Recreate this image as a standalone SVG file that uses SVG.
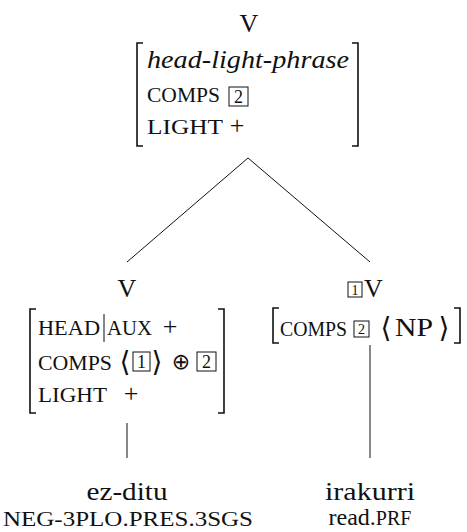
<svg xmlns="http://www.w3.org/2000/svg" width="467" height="532" viewBox="0 0 467 532">
<style>
text{font-family:"Liberation Serif","DejaVu Serif","DejaVu Sans",serif;fill:#111}
.t{font-size:26px}
.it{font-style:italic}
.sc{font-size:20px}
.sym{font-family:"DejaVu Sans ExtraLight","DejaVu Sans","DejaVu Serif",serif;font-size:28px;font-weight:200}
.oplus{font-family:"DejaVu Sans","DejaVu Serif",serif;font-size:22px}
.num{font-size:18px}
.snum{font-size:14px}
.br{fill:none;stroke:#111;stroke-width:1.6}
.box{fill:none;stroke:#111;stroke-width:1}
.edge{stroke:#111;stroke-width:1;fill:none}
</style>
<rect width="467" height="532" fill="#fff"/>
<g id="connectors">
<line class="edge" x1="248" y1="158" x2="127" y2="262"/>
<line class="edge" x1="248" y1="158" x2="370" y2="262"/>
<line class="edge" x1="127" y1="423" x2="127" y2="458"/>
<line class="edge" x1="370" y1="345" x2="370" y2="458"/>
</g>
<g id="node-top">
<text x="249" y="32" text-anchor="middle" class="t">V</text>
<path class="br" d="M143,43 H137 V146 H143"/>
<path class="br" d="M352,43 H358 V146 H352"/>
<text x="147" y="68" class="t it" textLength="202" lengthAdjust="spacingAndGlyphs">head-light-phrase</text>
<text x="147" y="102" class="sc" textLength="73" lengthAdjust="spacingAndGlyphs">COMPS</text>
<rect class="box" x="229" y="87" width="19" height="19"/>
<text x="238.5" y="102.5" text-anchor="middle" class="num">2</text>
<text x="147" y="134" class="sc" textLength="76" lengthAdjust="spacingAndGlyphs">LIGHT</text>
<text x="237" y="134" text-anchor="middle" class="t">+</text>
</g>
<g id="node-left">
<text x="127" y="297" text-anchor="middle" class="t">V</text>
<path class="br" d="M36,309 H30 V413 H36"/>
<path class="br" d="M218,309 H224 V413 H218"/>
<text x="38" y="335" class="sc" textLength="62" lengthAdjust="spacingAndGlyphs">HEAD</text>
<line class="box" x1="104" y1="314" x2="104" y2="342"/>
<text x="107" y="335" class="sc" textLength="45" lengthAdjust="spacingAndGlyphs">AUX</text>
<text x="170" y="335" text-anchor="middle" class="t">+</text>
<text x="38" y="370" class="sc" textLength="74" lengthAdjust="spacingAndGlyphs">COMPS</text>
<text x="125" y="371" text-anchor="middle" class="sym">⟨</text>
<rect class="box" x="133" y="352" width="17" height="19"/>
<text x="141.5" y="367.5" text-anchor="middle" class="num">1</text>
<text x="157" y="371" text-anchor="middle" class="sym">⟩</text>
<text x="181" y="369" text-anchor="middle" class="oplus">⊕</text>
<rect class="box" x="197" y="352" width="19" height="19"/>
<text x="206.5" y="367.5" text-anchor="middle" class="num">2</text>
<text x="38" y="402" class="sc" textLength="69" lengthAdjust="spacingAndGlyphs">LIGHT</text>
<text x="131" y="402" text-anchor="middle" class="t">+</text>
</g>
<g id="node-right">
<rect class="box" x="348" y="282" width="14" height="15"/>
<text x="355" y="295" text-anchor="middle" class="snum">1</text>
<text x="364" y="297" class="t">V</text>
<path class="br" d="M279,308 H273 V343 H279"/>
<path class="br" d="M454,308 H460 V343 H454"/>
<text x="280" y="336" class="sc" textLength="67" lengthAdjust="spacingAndGlyphs">COMPS</text>
<rect class="box" x="354" y="321" width="15" height="16"/>
<text x="361.5" y="334" text-anchor="middle" class="snum">2</text>
<text x="386" y="337" text-anchor="middle" class="sym">⟨</text>
<text x="395" y="336" class="t" textLength="38" lengthAdjust="spacingAndGlyphs">NP</text>
<text x="444" y="337" text-anchor="middle" class="sym">⟩</text>
</g>
<g id="leaf-ezditu">
<text x="127" y="500" text-anchor="middle" class="t" textLength="81" lengthAdjust="spacingAndGlyphs">ez-ditu</text>
<text x="128" y="526" text-anchor="middle" class="sc" textLength="250" lengthAdjust="spacingAndGlyphs">NEG-3PLO.PRES.3SGS</text>
</g>
<g id="leaf-irakurri">
<text x="370" y="500" text-anchor="middle" class="t" textLength="90" lengthAdjust="spacingAndGlyphs">irakurri</text>
<text x="370" y="525" text-anchor="middle" style="font-size:24px">read.<tspan class="sc">PRF</tspan></text>
</g>
</svg>
